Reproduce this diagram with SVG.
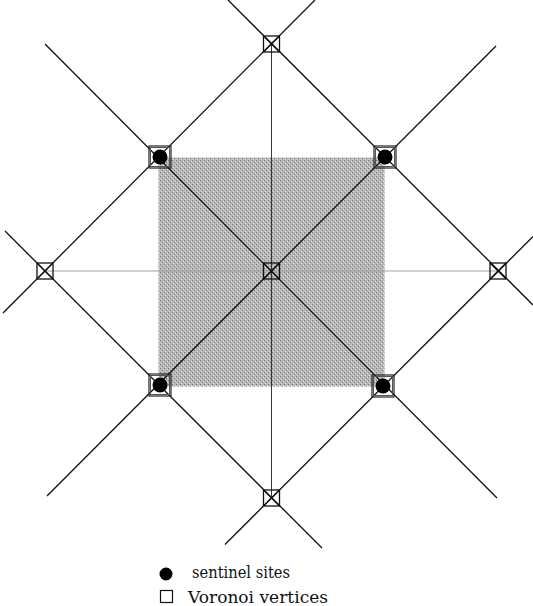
<svg xmlns="http://www.w3.org/2000/svg" width="533" height="606" viewBox="0 0 533 606">
<defs>
<pattern id="stip" width="4" height="4" patternUnits="userSpaceOnUse">
<rect width="4" height="4" fill="#b8b8b8"/>
<rect x="0" y="0" width="1" height="1" fill="#777"/>
<rect x="2" y="2" width="1" height="1" fill="#777"/>
<rect x="3" y="1" width="1" height="1" fill="#dedede"/>
<rect x="1" y="3" width="1" height="1" fill="#dedede"/>
</pattern>
<g id="vv"><rect x="-8" y="-8" width="16" height="16" fill="none" stroke="#111" stroke-width="1.3"/><path d="M-8,-8L8,8M8,-8L-8,8" stroke="#111" stroke-width="1.1" fill="none"/></g>
<g id="site"><rect x="-11" y="-11" width="22" height="22" fill="none" stroke="#222" stroke-width="1.2"/><rect x="-9.5" y="-9.5" width="19" height="19" fill="none" stroke="#555" stroke-width="1"/><circle r="7.5" fill="#000"/></g>
</defs>
<style>
.ln{stroke:#111;stroke-width:1.3;fill:none}
.thin{stroke:#222;stroke-width:0.9;fill:none}
.hz{stroke:#999;stroke-width:0.9;fill:none}
.lbl{font-family:"DejaVu Serif","Liberation Serif",serif;font-size:17px;fill:#111}
</style>
<rect x="158.5" y="157.5" width="226" height="229" fill="url(#stip)"/>
<g id="connectors">
<line class="hz" x1="45" y1="271" x2="498" y2="271"/>
<line class="thin" x1="271.5" y1="44" x2="271.5" y2="498"/>
<line class="ln" x1="45" y1="44" x2="497" y2="498"/>
<line class="ln" x1="496" y1="46" x2="47" y2="496"/>
<line class="ln" x1="315" y1="0" x2="3" y2="313"/>
<line class="ln" x1="228" y1="0" x2="533" y2="305"/>
<line class="ln" x1="5" y1="231" x2="322" y2="548"/>
<line class="ln" x1="225" y1="544.5" x2="533" y2="236.5"/>
</g>
<g id="v-top"><use href="#vv" x="271.5" y="44"/></g>
<g id="v-left"><use href="#vv" x="45" y="271"/></g>
<g id="v-right"><use href="#vv" x="498" y="271"/></g>
<g id="v-bottom"><use href="#vv" x="271.5" y="498"/></g>
<g id="v-center"><use href="#vv" x="271.5" y="271"/></g>
<g id="s-tl"><use href="#site" x="160" y="157"/></g>
<g id="s-tr"><use href="#site" x="385" y="157"/></g>
<g id="s-bl"><use href="#site" x="160" y="385"/></g>
<g id="s-br"><use href="#site" x="383" y="386"/></g>
<g id="legend">
<circle cx="166" cy="574" r="6.5" fill="#000"/>
<text class="lbl" x="192" y="578" textLength="98" lengthAdjust="spacingAndGlyphs">sentinel sites</text>
<rect x="160.5" y="590.5" width="12" height="12" fill="none" stroke="#111" stroke-width="1.2"/>
<text class="lbl" x="188" y="603" textLength="140" lengthAdjust="spacingAndGlyphs">Voronoi vertices</text>
</g>
</svg>
